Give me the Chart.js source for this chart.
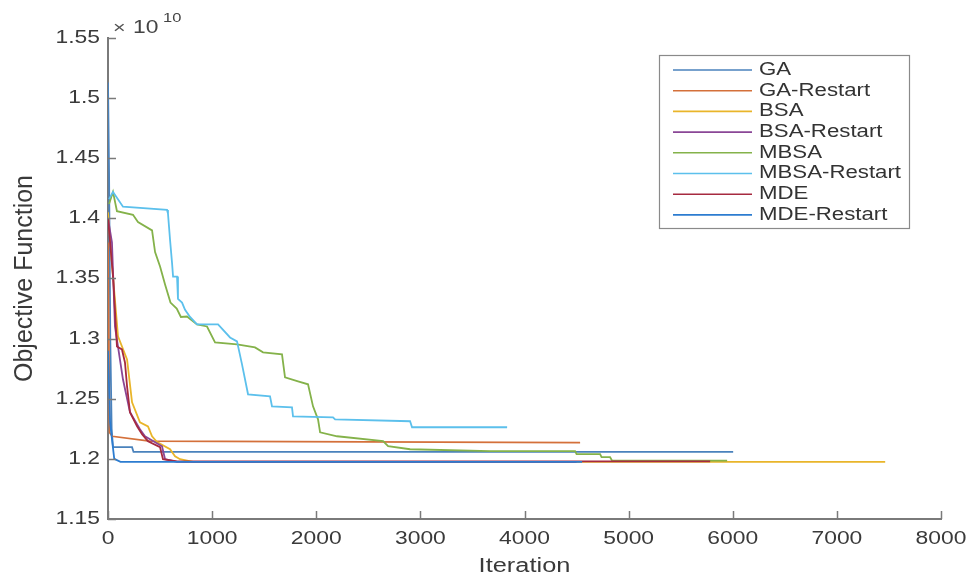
<!DOCTYPE html>
<html>
<head>
<meta charset="utf-8">
<script src="https://cdn.jsdelivr.net/npm/chart.js@4.4.0/dist/chart.umd.min.js"></script>
<style>
  html, body { margin: 0; padding: 0; background: #fff; }
  #wrap { width: 971px; height: 579px; }
</style>
</head>
<body>
<div id="wrap"><canvas id="chart" width="971" height="579"></canvas></div>
<script>
// values (y in units of 1e10)
const seriesNames = ['GA', 'GA-Restart', 'BSA', 'BSA-Restart', 'MBSA', 'MBSA-Restart', 'MDE', 'MDE-Restart'];
const seriesColors = ['#4a82bc', '#d4703a', '#e9b52a', '#8a4696', '#84b24a', '#5cc0ec', '#a62a40', '#2c7cd0'];

const gaIter = [0, 10, 22, 35, 48, 231, 245, 6004];
const gaVal = [1.513, 1.44, 1.30, 1.225, 1.2097, 1.2097, 1.2058, 1.2058];

const gaRestartIter = [0, 15, 40, 400, 4534];
const gaRestartVal = [1.38, 1.222, 1.2188, 1.2147, 1.2135];

const bsaIter = [0, 40, 96, 183, 231, 307, 384, 423, 471, 596, 644, 692, 817, 7464];
const bsaVal = [1.405, 1.36, 1.302, 1.2827, 1.247, 1.2304, 1.227, 1.2188, 1.2139, 1.208, 1.2022, 1.1997, 1.1975, 1.1975];

const bsaRestartIter = [0, 38, 67, 144, 211, 307, 355, 519, 548, 663, 4500];
const bsaRestartVal = [1.40, 1.38, 1.31, 1.266, 1.2388, 1.2246, 1.2188, 1.2105, 1.1997, 1.1975, 1.1975];

const mbsaIter = [10, 48, 86, 240, 288, 423, 452, 500, 548, 600, 660, 700, 759, 855, 951, 1028, 1239, 1412, 1489, 1671, 1700, 1825, 1921, 1969, 2017, 2037, 2200, 2642, 2690, 2901, 3670, 4486, 4500, 4726, 4740, 4822, 4841, 5946];
const mbsaVal = [1.412, 1.422, 1.406, 1.403, 1.397, 1.39, 1.372, 1.36, 1.345, 1.33, 1.325, 1.318, 1.3184, 1.3118, 1.3101, 1.2968, 1.2952, 1.2927, 1.2886, 1.2869, 1.2678, 1.2645, 1.262, 1.2437, 1.2329, 1.2221, 1.2188, 1.2147, 1.2105, 1.208, 1.2064, 1.2064, 1.2039, 1.2039, 1.2014, 1.2014, 1.1985, 1.1985];

const mbsaRestartIter = [10, 48, 144, 567, 576, 596, 615, 625, 663, 672, 711, 740, 788, 855, 1057, 1172, 1239, 1287, 1345, 1556, 1575, 1767, 1777, 2161, 2181, 2901, 2920, 3833];
const mbsaRestartVal = [1.416, 1.422, 1.4097, 1.407, 1.404, 1.382, 1.363, 1.3516, 1.3516, 1.333, 1.330, 1.324, 1.318, 1.3118, 1.3118, 1.301, 1.2977, 1.2786, 1.2537, 1.252, 1.2437, 1.2429, 1.2354, 1.2346, 1.2329, 1.2313, 1.2263, 1.2263];

const mdeIter = [0, 50, 86, 134, 163, 183, 211, 279, 327, 384, 500, 528, 663, 5783];
const mdeVal = [1.40, 1.35, 1.2935, 1.291, 1.2802, 1.2603, 1.2388, 1.2271, 1.2205, 1.2147, 1.2097, 1.1997, 1.198, 1.198];

const mdeRestartIter = [0, 20, 60, 120, 4553];
const mdeRestartVal = [1.29, 1.23, 1.2, 1.1975, 1.1975];

const xTicks = [0, 1000, 2000, 3000, 4000, 5000, 6000, 7000, 8000];
const yTicks = [1.15, 1.2, 1.25, 1.3, 1.35, 1.4, 1.45, 1.5, 1.55];

const allIter = [gaIter, gaRestartIter, bsaIter, bsaRestartIter, mbsaIter, mbsaRestartIter, mdeIter, mdeRestartIter];
const allVal = [gaVal, gaRestartVal, bsaVal, bsaRestartVal, mbsaVal, mbsaRestartVal, mdeVal, mdeRestartVal];

const FONT = '"Liberation Sans", Arial, sans-serif';
const SX = 1.27; // the picture is stretched sideways

function stretchText(ctx, txt, x, y, align, size, color) {
  ctx.save();
  ctx.translate(x, y);
  ctx.scale(SX, 1);
  ctx.font = size + 'px ' + FONT;
  ctx.fillStyle = color;
  ctx.textAlign = align;
  ctx.textBaseline = 'middle';
  ctx.fillText(txt, 0, 0);
  ctx.restore();
}

const datasets = seriesNames.map((name, i) => ({
  label: name,
  data: allIter[i].map((x, j) => ({ x: x, y: allVal[i][j] })),
  borderColor: seriesColors[i],
  borderWidth: 1.8,
  pointRadius: 0,
  fill: false,
  tension: 0,
  order: seriesNames.length - i
}));

const axesPlugin = {
  id: 'matlabAxes',
  afterDraw(chart) {
    const ctx = chart.ctx;
    const area = chart.chartArea;
    const xs = chart.scales.x, ys = chart.scales.y;

    // inward tick marks
    ctx.save();
    ctx.strokeStyle = '#7a7a7a';
    ctx.lineWidth = 1.5;
    yTicks.forEach(v => {
      const py = Math.round(ys.getPixelForValue(v)) + 0.5;
      ctx.beginPath(); ctx.moveTo(area.left, py); ctx.lineTo(area.left + 8, py); ctx.stroke();
    });
    xTicks.forEach(v => {
      const px = Math.round(xs.getPixelForValue(v)) + 0.5;
      ctx.beginPath(); ctx.moveTo(px, area.bottom); ctx.lineTo(px, area.bottom - 8); ctx.stroke();
    });
    ctx.restore();

    // tick labels
    yTicks.forEach(v => {
      stretchText(ctx, String(parseFloat(v.toFixed(2))), area.left - 8, ys.getPixelForValue(v), 'right', 18, '#3a3a3a');
    });
    xTicks.forEach(v => {
      stretchText(ctx, String(v), xs.getPixelForValue(v), area.bottom + 20, 'center', 18, '#3a3a3a');
    });

    // axis titles
    stretchText(ctx, 'Iteration', (area.left + area.right) / 2, area.bottom + 47, 'center', 20, '#3a3a3a');
    ctx.save();
    ctx.translate(25, (area.top + area.bottom) / 2);
    ctx.rotate(-Math.PI / 2);
    ctx.font = '25px ' + FONT;
    ctx.fillStyle = '#3a3a3a';
    ctx.textAlign = 'center';
    ctx.textBaseline = 'middle';
    ctx.fillText('Objective Function', 0, 0);
    ctx.restore();

    // exponent
    stretchText(ctx, '\u00d7', area.left + 5, area.top - 10, 'left', 17, '#555');
    stretchText(ctx, '10', area.left + 25, area.top - 10, 'left', 18, '#444');
    stretchText(ctx, '10', area.left + 55, area.top - 20, 'left', 13, '#444');

    // legend
    const bx = area.right - 282, by = area.top + 17, bw = 250, bh = 173;
    ctx.save();
    ctx.fillStyle = '#fff';
    ctx.fillRect(bx, by, bw, bh);
    ctx.strokeStyle = '#8a8a8a';
    ctx.lineWidth = 1.2;
    ctx.strokeRect(bx + 0.5, by + 0.5, bw, bh);
    chart.data.datasets.forEach((ds, i) => {
      const ry = by + 15 + i * 20.7;
      ctx.strokeStyle = ds.borderColor;
      ctx.lineWidth = 1.6;
      ctx.beginPath(); ctx.moveTo(bx + 14, ry); ctx.lineTo(bx + 93, ry); ctx.stroke();
      stretchText(ctx, ds.label, bx + 100, ry, 'left', 17.5, '#333');
    });
    ctx.restore();
  }
};

new Chart(document.getElementById('chart'), {
  type: 'line',
  data: { datasets },
  options: {
    responsive: false,
    animation: false,
    parsing: true,
    layout: { padding: { left: 108, right: 30, top: 38, bottom: 60 } },
    plugins: { legend: { display: false }, tooltip: { enabled: false } },
    scales: {
      x: {
        type: 'linear', min: 0, max: 8000,
        ticks: { display: false, stepSize: 1000 },
        grid: { display: false, drawTicks: false },
        border: { display: true, color: '#7a7a7a', width: 2 },
        afterFit: s => { s.height = 0; }
      },
      y: {
        type: 'linear', min: 1.15, max: 1.55,
        ticks: { display: false, stepSize: 0.05 },
        grid: { display: false, drawTicks: false },
        border: { display: true, color: '#7a7a7a', width: 2 },
        afterFit: s => { s.width = 0; }
      }
    }
  },
  plugins: [axesPlugin]
});
</script>
</body>
</html>
